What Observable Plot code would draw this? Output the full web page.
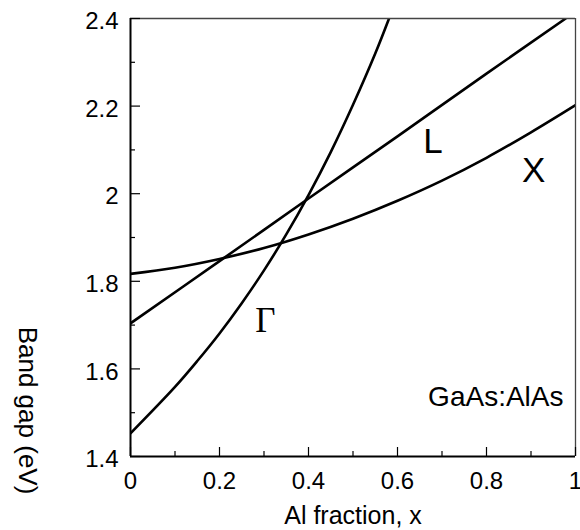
<!DOCTYPE html>
<html>
<head>
<meta charset="utf-8">
<script src="https://cdn.jsdelivr.net/npm/d3@7"></script>
<script src="https://cdn.jsdelivr.net/npm/@observablehq/plot@0.6"></script>
<style>
  html, body { margin: 0; padding: 0; background: white; }
  #chart { width: 580px; height: 530px; }
</style>
</head>
<body>
<div id="chart"></div>
<script>
// Al fraction sample points and band-gap values (eV)
const gammaX = [0, 0.1, 0.15, 0.2, 0.25, 0.3, 0.35, 0.4, 0.45, 0.5, 0.55, 0.581];
const gammaE = [1.453, 1.559, 1.618, 1.681, 1.750, 1.825, 1.907, 1.997, 2.095, 2.203, 2.320, 2.40];

const lX = [0, 0.2, 0.4, 0.6, 0.8, 0.978];
const lE = [1.704, 1.846, 1.989, 2.131, 2.274, 2.40];

const xX = [0, 0.1, 0.2, 0.3, 0.4, 0.5, 0.6, 0.7, 0.8, 0.9, 1.0];
const xE = [1.817, 1.831, 1.851, 1.876, 1.907, 1.943, 1.984, 2.030, 2.082, 2.140, 2.202];

// curve labels: text, x, energy
const labelText = ["\u0393", "L", "X"];
const labelX = [0.303, 0.68, 0.906];
const labelE = [1.71, 2.118, 2.053];

const xTicks = [0, 0.2, 0.4, 0.6, 0.8, 1];
const xMinor = [0.1, 0.3, 0.5, 0.7, 0.9];
const yTicks = [1.4, 1.6, 1.8, 2.0, 2.2, 2.4];
const yMinor = [1.5, 1.7, 1.9, 2.1, 2.3];

const xTitle = "Al fraction, x";
const yTitle = "Band gap (eV)";
const note = "GaAs:AlAs";

const series = [
  ...gammaX.map((x, i) => ({band: "G", x, e: gammaE[i]})),
  ...lX.map((x, i) => ({band: "L", x, e: lE[i]})),
  ...xX.map((x, i) => ({band: "X", x, e: xE[i]}))
];
const labels = labelText.map((t, i) => ({t, x: labelX[i], e: labelE[i]}));

const sans = "Liberation Sans, Arial, Helvetica, sans-serif";

const chart = Plot.plot({
  width: 580,
  height: 530,
  marginLeft: 130,
  marginRight: 5,
  marginTop: 18,
  marginBottom: 74,
  style: {fontFamily: sans, background: "white", color: "black"},
  x: {domain: [0, 1]},
  y: {domain: [1.4, 2.4]},
  marks: [
    // curves
    Plot.line(series, {x: "x", y: "e", z: "band", curve: "catmull-rom", stroke: "black", strokeWidth: 2.6, clip: true}),
    // frame
    Plot.ruleY([2.4], {stroke: "#444", strokeWidth: 1.3}),
    Plot.ruleX([1], {stroke: "#444", strokeWidth: 1.3}),
    // ticks (inward)
    Plot.axisY({ticks: yTicks, tickSize: -10, text: null, label: null, strokeWidth: 1.2}),
    Plot.axisY({ticks: yMinor, tickSize: -5, text: null, label: null, strokeWidth: 1.2}),
    Plot.axisX({ticks: xTicks, tickSize: -9, text: null, label: null, strokeWidth: 1.2}),
    Plot.axisX({ticks: xMinor, tickSize: -5, text: null, label: null, strokeWidth: 1.2}),
    // tick labels
    Plot.axisY({ticks: yTicks, tickSize: 0, tickPadding: 12, tickFormat: d => d === 2 ? "2" : d3.format(".1f")(d), fontSize: 24, dy: 3, label: null}),
    Plot.axisX({ticks: xTicks, tickSize: 0, tickPadding: 15, tickFormat: d => (d === 0 || d === 1) ? String(d) : d3.format(".1f")(d), fontSize: 24, label: null}),
    Plot.ruleX([0], {stroke: "black", strokeWidth: 2}),
    Plot.ruleY([1.4], {stroke: "black", strokeWidth: 2}),
    // axis titles
    Plot.text([xTitle], {frameAnchor: "bottom", dy: 59, lineAnchor: "middle", fontSize: 25, text: d => d}),
    Plot.text([yTitle], {frameAnchor: "bottom-left", dx: -103, dy: -46, rotate: 90, textAnchor: "middle", lineAnchor: "middle", fontSize: 26, text: d => d}),
    // curve labels
    Plot.text(labels.filter(d => d.t !== "\u0393"), {x: "x", y: "e", text: "t", fontSize: 35, lineAnchor: "middle"}),
    Plot.text(labels.filter(d => d.t === "\u0393"), {x: "x", y: "e", text: "t", fontSize: 35, lineAnchor: "middle", fontFamily: "Liberation Serif, Times New Roman, serif"}),
    // note
    Plot.text([note], {frameAnchor: "bottom-right", dx: -12, dy: -59, textAnchor: "end", lineAnchor: "middle", fontSize: 28, text: d => d})
  ]
});
document.getElementById("chart").appendChild(chart);
</script>
</body>
</html>
